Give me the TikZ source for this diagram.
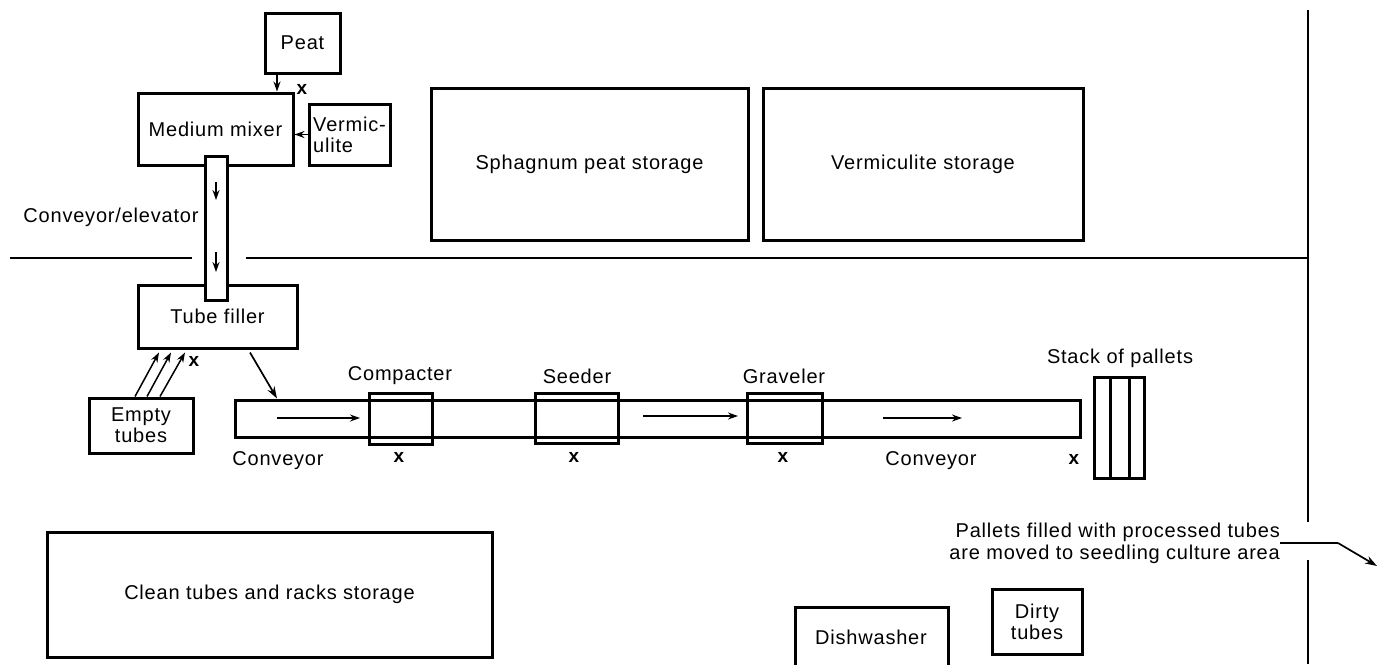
\documentclass[tikz,border=0pt]{standalone}
\usepackage{fontspec}
\setmainfont{Liberation Sans}[LetterSpace=4]
\usetikzlibrary{arrows.meta}
\begin{document}
\begin{tikzpicture}[x=1pt,y=-1pt,
  box/.style={draw,line width=3pt,inner sep=0pt,align=center,font=\fontsize{20}{21}\selectfont},
  lbl/.style={inner sep=0pt,font=\fontsize{20}{22}\selectfont},
  mk/.style={inner sep=0pt,font=\fontsize{19}{19}\bfseries\selectfont},
  wall/.style={line width=2pt},
  arr/.style={line width=1.7pt,-{Stealth[length=12pt,width=8pt]}},
  sarr/.style={line width=1.5pt,-{Stealth[length=10pt,width=7pt]}},
]
\useasboundingbox (0,0) rectangle (1383,664);
% walls
\draw[wall] (10,258) -- (192,258);
\draw[wall] (246,258) -- (1308,258);
\draw[wall] (1308,10) -- (1308,522);
\draw[wall] (1308,560) -- (1308,664);
% upper area
\node[box,minimum width=75,minimum height=60] (peat) at (302.5,43) {Peat};
\node[box,minimum width=155,minimum height=72] (mixer) at (215.5,129) {Medium mixer};
\node[box,minimum width=81,minimum height=61,align=left] (verm) at (349.5,134.5) {Vermic-\\ulite};
\node[box,minimum width=317,minimum height=152] (sphag) at (589.5,164) {Sphagnum peat storage};
\node[box,minimum width=320,minimum height=152] (vstore) at (923,164) {Vermiculite storage};
\node[box,minimum width=159,minimum height=63] (filler) at (217.5,316.5) {Tube filler};
\node[box,fill=white,minimum width=22,minimum height=144] (elev) at (216,228) {};
\node[lbl] (elevlbl) at (111,217) {Conveyor/elevator};
\coordinate (e1a) at (216,182); \coordinate (e1b) at (216,200);
\coordinate (e2a) at (216,252); \coordinate (e2b) at (216,272);
\draw[sarr] (e1a) -- (e1b);
\draw[sarr] (e2a) -- (e2b);
\draw[sarr] ([xshift=-25.5pt]peat.south) -- ([xshift=-25.5pt]peat.south |- mixer.north);
\draw[sarr] (verm.west) -- (mixer.east |- verm.west);
\node[mk] (x1) at (302,89) {x};
% process line
\node[box,minimum width=104,minimum height=55] (empty) at (141,425.5) {Empty\\tubes};
\draw[sarr] ([xshift=-6pt]empty.north) -- ([xshift=-58.5pt,yshift=-3pt]filler.south);
\draw[sarr] ([xshift=6pt]empty.north) -- ([xshift=-46.5pt,yshift=-3pt]filler.south);
\draw[sarr] ([xshift=19pt]empty.north) -- ([xshift=-32.5pt,yshift=-3pt]filler.south);
\node[mk] (x2) at (194,361) {x};
\node[box,minimum width=845,minimum height=37] (conv) at (657.5,418.5) {};
\draw[arr] ([xshift=32.5pt,yshift=-3pt]filler.south) -- ([xshift=-380.5pt]conv.north);
\node[box,minimum width=63,minimum height=51] (comp) at (400.5,419) {};
\node[box,minimum width=83,minimum height=50] (seed) at (576.5,418) {};
\node[box,minimum width=75,minimum height=50] (grav) at (784.5,418) {};
\node[lbl] (complbl) at (400,376) {Compacter};
\node[lbl] (seedlbl) at (577,376) {Seeder};
\node[lbl] (gravlbl) at (784,376) {Graveler};
\node[lbl] (conv1lbl) at (278,461) {Conveyor};
\node[lbl] (conv2lbl) at (931,461) {Conveyor};
\node[mk] (x3) at (399,457) {x};
\node[mk] (x4) at (574,457) {x};
\node[mk] (x5) at (783,457) {x};
\node[mk] (x6) at (1074,459) {x};
\coordinate (a1) at (277,418); \coordinate (a1e) at (360,418);
\coordinate (a2) at (643,416); \coordinate (a2e) at (738,416);
\coordinate (a3) at (883,418); \coordinate (a3e) at (962,418);
\draw[sarr] (a1) -- (a1e);
\draw[sarr] (a2) -- (a2e);
\draw[sarr] (a3) -- (a3e);
% pallets
\node[box,minimum width=50,minimum height=101] (pal) at (1119,427.5) {};
\draw[line width=3pt] (1110,377) -- (1110,478);
\draw[line width=3pt] (1129,377) -- (1129,478);
\node[lbl] (pallbl) at (1120,358) {Stack of pallets};
% lower area
\node[box,minimum width=445,minimum height=125] (clean) at (269.5,594.5) {Clean tubes and racks storage};
\draw[line width=3pt] (795,670) -- (795,607) -- (948,607) -- (948,670);
\node[lbl] (dish) at (871,637) {Dishwasher};
\node[box,minimum width=90,minimum height=65] (dirty) at (1037,621.5) {Dirty\\tubes};
\node[lbl,anchor=east,align=right] (out) at (1280,543) {Pallets filled with processed tubes\\are moved to seedling culture area};
\coordinate (bend) at (1338,543);
\coordinate (exit) at (1377,566);
\draw[line width=1.7pt] (out.east) -- (bend);
\draw[arr] (bend) -- (exit);
\end{tikzpicture}
\end{document}
